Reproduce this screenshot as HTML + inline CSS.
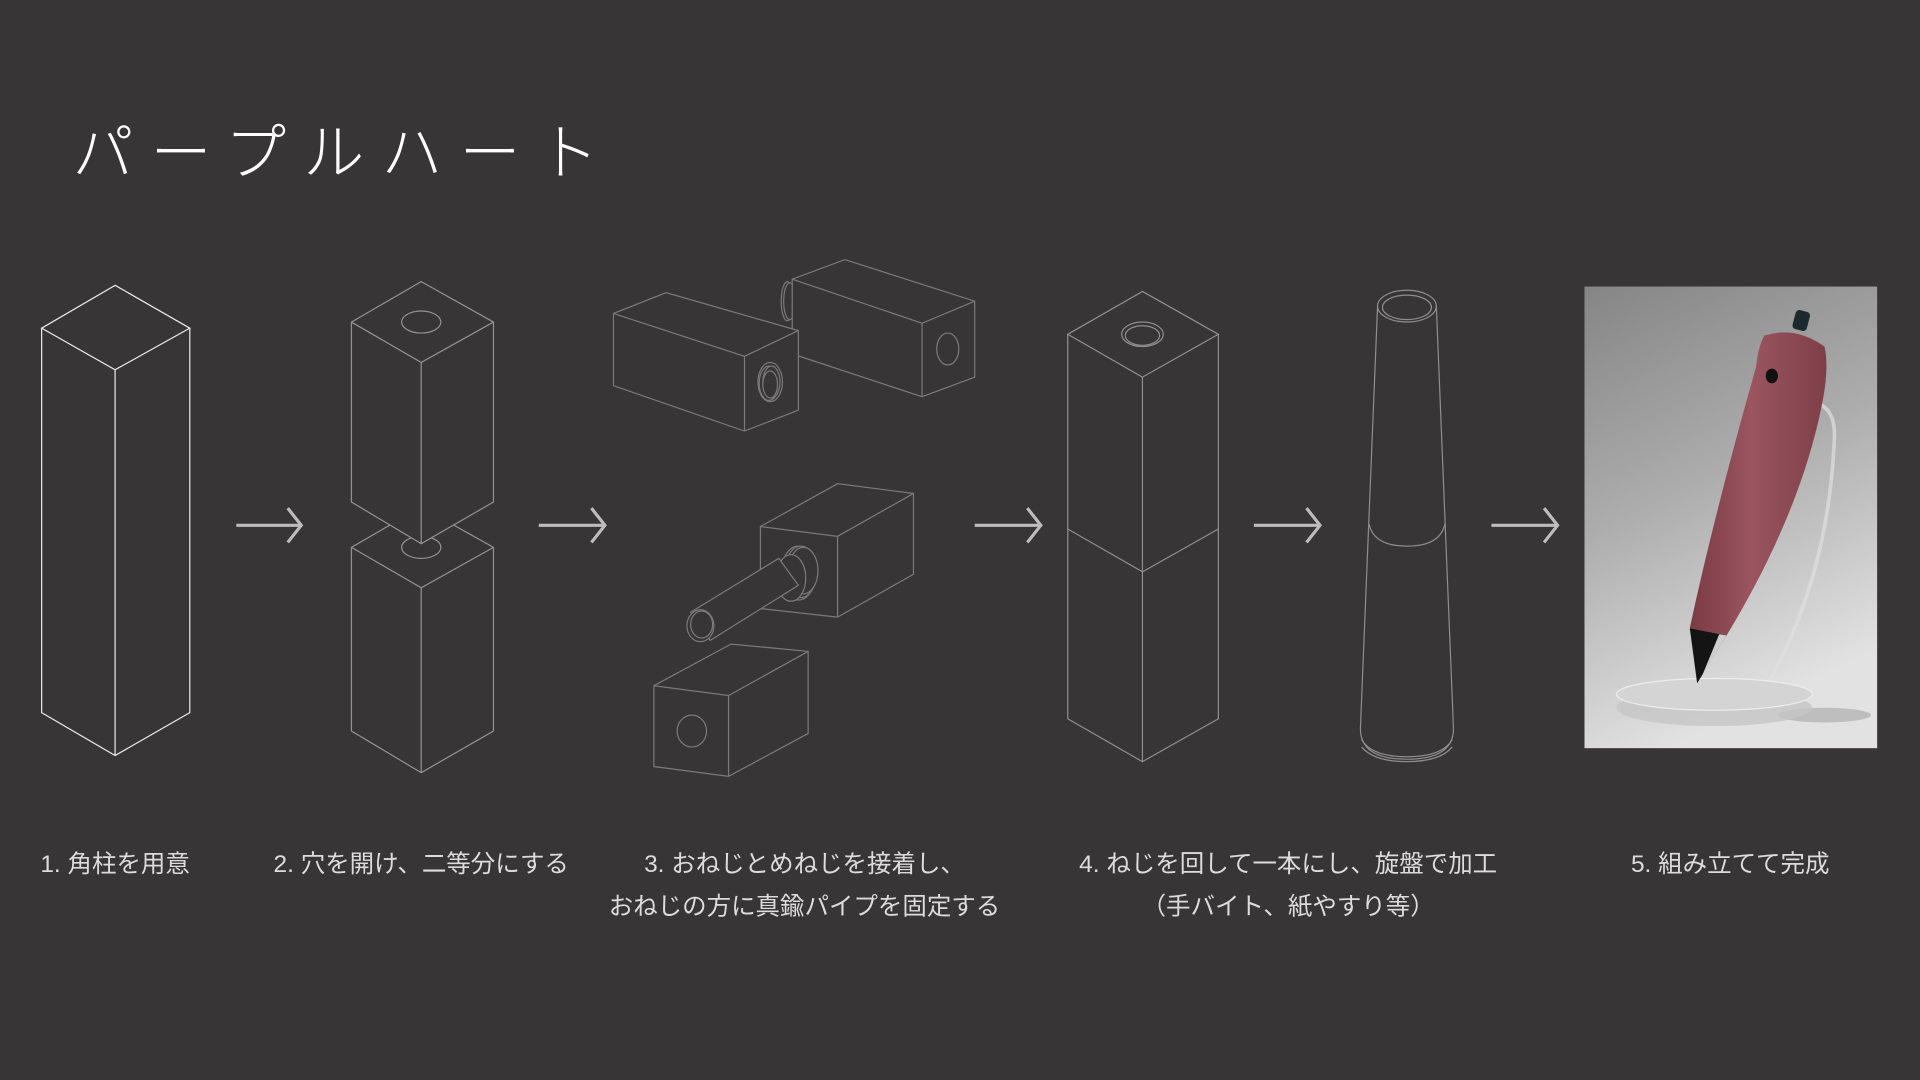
<!DOCTYPE html>
<html><head><meta charset="utf-8"><style>
html,body{margin:0;padding:0;background:#373536;}
svg{display:block}
text{font-family:"Liberation Sans","Noto Sans CJK JP",sans-serif;}
</style></head><body>
<svg width="1920" height="1080" viewBox="0 0 1568 882" xmlns="http://www.w3.org/2000/svg">
<defs>
<linearGradient id="bg" x1="0" y1="0" x2="0.3" y2="1">
<stop offset="0" stop-color="#858585"/><stop offset="0.5" stop-color="#adadad"/><stop offset="1" stop-color="#e2e2e2"/>
</linearGradient>
<linearGradient id="wood" x1="0" y1="0" x2="1" y2="0">
<stop offset="0" stop-color="#7a3a44"/><stop offset="0.45" stop-color="#9a5560"/><stop offset="1" stop-color="#7e3f48"/>
</linearGradient>
</defs>
<rect width="1568" height="882" fill="#373536"/>
<text x="59" y="142" font-size="50" fill="#fff" textLength="430" lengthAdjust="spacing" font-weight="300">パープルハート</text>

<!-- step 1 -->
<g fill="none" stroke="#e8e8e8" stroke-width="1">
<polygon points="94,233 155,268 94,302 34,268"/>
<polyline points="34,268 34,582 94,617 155,582 155,268"/>
<line x1="94" y1="302" x2="94" y2="617"/>
</g>

<!-- step 2 -->
<g fill="#373536" stroke="#929292" stroke-width="1">
<polygon points="344,414 403,447 403,597 344,631 287,597 287,447"/>
<polyline points="287,447 344,480 403,447" fill="none"/>
<line x1="344" y1="480" x2="344" y2="631"/>
<ellipse cx="344" cy="447" rx="16" ry="9"/>
<polygon points="344,230 403,263 403,410 344,444 287,410 287,263"/>
<polyline points="287,263 344,296 403,263" fill="none"/>
<line x1="344" y1="296" x2="344" y2="444"/>
<ellipse cx="344" cy="263" rx="16" ry="9"/>
</g>

<!-- step 3 -->
<g fill="#373536" stroke="#7a7a7a" stroke-width="1">
<ellipse cx="643" cy="246" rx="5" ry="16"/><ellipse cx="645" cy="246" rx="5" ry="15"/>
<polygon points="647,228 690,212 796,246 796,308 753,324 647,289"/>
<polyline points="647,228 753,264 796,246" fill="none"/><line x1="753" y1="264" x2="753" y2="324"/>
<ellipse cx="774" cy="285" rx="9" ry="13"/>
<polygon points="501,256 544,239 652,270 652,335 608,352 501,315"/>
<polyline points="501,256 608,291 652,270" fill="none"/><line x1="608" y1="291" x2="608" y2="352"/>
<ellipse cx="629" cy="312" rx="10" ry="16"/><ellipse cx="628" cy="313" rx="8" ry="14"/><ellipse cx="630" cy="312" rx="7" ry="13"/><ellipse cx="629" cy="314" rx="6" ry="11"/>

<polygon points="621,430 684,395 746,403 746,469 684,504 621,497"/>
<polyline points="621,430 684,438 746,403" fill="none"/><line x1="684" y1="438" x2="684" y2="504"/>
<ellipse cx="652" cy="468" rx="14" ry="22"/><ellipse cx="654" cy="467" rx="13" ry="21"/><ellipse cx="656" cy="466" rx="12" ry="19"/><ellipse cx="646" cy="472" rx="12" ry="19"/>
<polygon points="564,500 636,456 652,478 580,523"/>
<ellipse cx="572" cy="511" rx="11" ry="13"/><ellipse cx="573" cy="510" rx="9" ry="11"/>

<polygon points="534,560 597,526 660,532 660,599 595,634 534,626"/>
<polyline points="534,560 595,568 660,532" fill="none"/><line x1="595" y1="568" x2="595" y2="634"/>
<ellipse cx="565" cy="597" rx="12" ry="13"/>
</g>

<!-- step 4 -->
<g fill="none" stroke="#8e8e8e" stroke-width="1">
<polygon points="933,238 995,273 933,308 872,273"/>
<polyline points="872,273 872,587 933,622 995,587 995,273"/>
<line x1="933" y1="308" x2="933" y2="622"/>
<polyline points="872,432 933,467 995,432"/>
<ellipse cx="933" cy="273" rx="17" ry="10"/><ellipse cx="933" cy="274" rx="14" ry="8"/>
</g>

<!-- step 5 -->
<g fill="none" stroke="#8e8e8e" stroke-width="1">
<ellipse cx="1149" cy="250" rx="24" ry="13"/><ellipse cx="1149" cy="251" rx="20" ry="10"/>
<path d="M1125,250 L1111,595 Q1111,620 1149,620 Q1187,620 1187,595 L1173,250"/>
<path d="M1112,604 Q1120,618 1149,618 Q1178,618 1186,604"/>
<path d="M1112,610 Q1122,622 1149,622 Q1176,622 1186,610"/>
<path d="M1118,428 Q1122,446 1149,446 Q1176,446 1180,428"/>
</g>

<!-- arrows -->
<g fill="none" stroke="#bdbdbd" stroke-width="2.6" stroke-linejoin="miter">
<line x1="193" y1="429" x2="246" y2="429"/><polyline points="235,415 246,429 235,443"/>
<line x1="440" y1="429" x2="494" y2="429"/><polyline points="483,415 494,429 483,443"/>
<line x1="796" y1="429" x2="850" y2="429"/><polyline points="839,415 850,429 839,443"/>
<line x1="1024" y1="429" x2="1078" y2="429"/><polyline points="1067,415 1078,429 1067,443"/>
<line x1="1218" y1="429" x2="1272" y2="429"/><polyline points="1261,415 1272,429 1261,443"/>
</g>

<!-- photo -->
<rect x="1294" y="234" width="239" height="377" fill="url(#bg)"/>
<path d="M1475,328 Q1500,328 1498,360 Q1493,470 1445,556" fill="none" stroke="#e0e0e0" stroke-width="3" opacity="0.7"/>
<ellipse cx="1490" cy="584" rx="38" ry="6" fill="#999" opacity="0.5"/>
<ellipse cx="1400" cy="578" rx="80" ry="15" fill="#c6c6c6" opacity="0.8"/>
<ellipse cx="1400" cy="567" rx="80" ry="13" fill="#d4d4d4" stroke="#ececec" stroke-width="1"/>
<rect x="1465" y="254" width="12" height="16" rx="3" fill="#1c2a30" transform="rotate(15 1472 262)"/>
<path d="M1441,274 Q1466,266 1490,283 Q1494,300 1488,330 Q1470,420 1410,519 L1380,513 Q1400,420 1434,300 Q1436,282 1441,274 Z" fill="url(#wood)"/>
<path d="M1380,513 L1410,519 L1386,558 Z" fill="#141414"/>
<path d="M1404,518 L1410,519 L1390,552 Z" fill="#cfcfcf"/>
<ellipse cx="1447" cy="307" rx="5" ry="6" fill="#111"/>

<!-- captions -->
<g fill="#dcdcdc" font-size="20" text-anchor="middle">
<text x="94" y="712">1. 角柱を用意</text>
<text x="344" y="712">2. 穴を開け、二等分にする</text>
<text x="657" y="712">3. おねじとめねじを接着し、</text>
<text x="657" y="747">おねじの方に真鍮パイプを固定する</text>
<text x="1052" y="712">4. ねじを回して一本にし、旋盤で加工</text>
<text x="1052" y="747">（手バイト、紙やすり等）</text>
<text x="1413" y="712">5. 組み立てて完成</text>
</g>
</svg>
</body></html>
